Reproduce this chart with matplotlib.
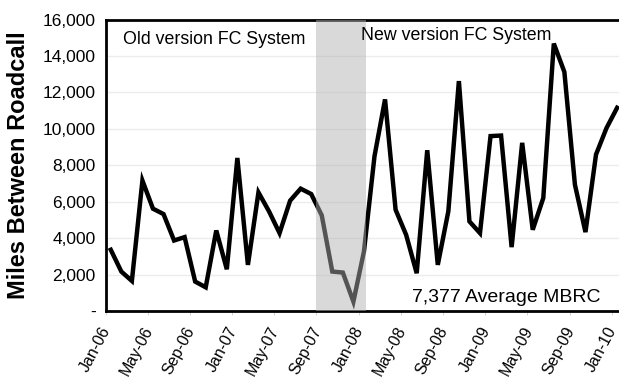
import matplotlib.pyplot as plt
import matplotlib.transforms as mtransforms
import numpy as np

plt.rcParams['font.family'] = ['Liberation Sans', 'DejaVu Sans']

# monthly Miles Between Roadcall, Jan-06 .. Jan-10
months = [f'{m}-{y:02d}' for y in range(6, 11) for m in
          ['Jan', 'Feb', 'Mar', 'Apr', 'May', 'Jun', 'Jul', 'Aug', 'Sep', 'Oct', 'Nov', 'Dec']][:49]
mbrc = [3360, 2165, 1650, 7160, 5615, 5320, 3870, 4055, 1615, 1300, 4420, 2290,
        8400, 2530, 6510, 5470, 4275, 6055, 6715, 6420, 5250, 2165, 2110, 514,
        3266, 8495, 11615, 5560, 4180, 2073, 8825, 2532, 5470, 12620, 4917, 4275,
        9600, 9630, 3505, 9230, 4460, 6200, 14680, 13120, 6935, 4330, 8590, 10050,
        11155]
label_step = 4
yticks = [0, 2000, 4000, 6000, 8000, 10000, 12000, 14000, 16000]
# changeover period (month index)
shade_start = 19.5
shade_end = 24.2

x = np.arange(len(mbrc))

fig = plt.figure(figsize=(6.19, 3.83), dpi=100)
ax = fig.add_axes([105.5 / 619, 72 / 383, 519 / 619, 291.5 / 383])

ax.plot(x, mbrc, color='black', lw=3.2, solid_joinstyle='miter', zorder=3)
# semi-transparent band drawn over the line so the line turns gray inside
ax.axvspan(shade_start, shade_end, color='#b1b1b1', alpha=0.48, lw=0, zorder=4)

ax.set_xlim(-0.5, 48.7)
ax.set_ylim(0, 16000)
ax.set_yticks(yticks)
ax.set_yticklabels(['-' if v == 0 else f'{v:,}' for v in yticks], fontsize=12.5)
ax.tick_params(axis='y', length=0, pad=7)
for v in yticks[1:-1]:
    ax.axhline(v, color='#ececec', lw=1, zorder=1)

ax.set_xticks(x[::label_step])
ax.set_xticklabels(months[::label_step], rotation=62, ha='right', va='center',
                   rotation_mode='anchor', fontsize=11.5)
ax.tick_params(axis='x', length=0, pad=12)
shift = mtransforms.ScaledTranslation(-4 / 100, 0, fig.dpi_scale_trans)
for lab in ax.get_xticklabels():
    lab.set_transform(lab.get_transform() + shift)
ax.set_xticks(x[::label_step] - 0.5, minor=True)
ax.tick_params(axis='x', which='minor', length=3, color='#cccccc')

for side in ['top', 'left', 'bottom']:
    ax.spines[side].set_linewidth(2)
ax.spines['right'].set_visible(False)

ax.set_ylabel('Miles Between Roadcall', fontsize=17, fontweight='bold', labelpad=9)

ax.text(0.034, 0.915, 'Old version FC System', transform=ax.transAxes, fontsize=12.8)
ax.text(0.492, 0.93, 'New version FC System', transform=ax.transAxes, fontsize=12.8,
        zorder=5)
ax.text(0.59, 0.03, '7,377 Average MBRC', transform=ax.transAxes, fontsize=14)

fig.savefig('out.png', dpi=100)
